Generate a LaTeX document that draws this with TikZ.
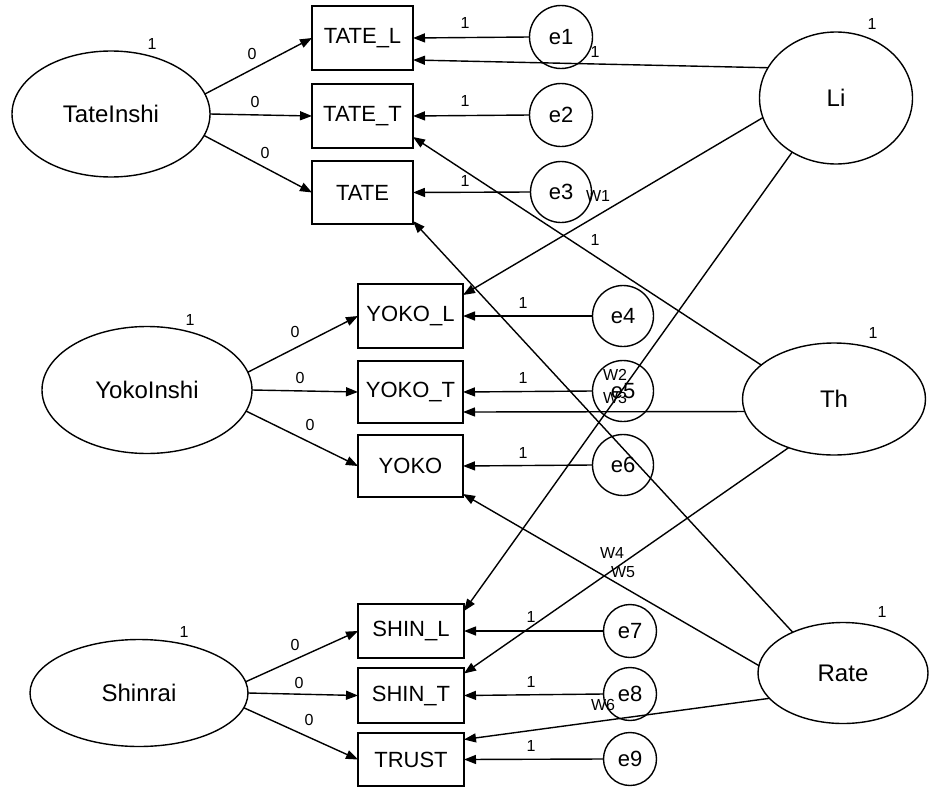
\documentclass[tikz,border=0pt]{standalone}
\usepackage{fontspec}
\setmainfont{Liberation Sans}
\usetikzlibrary{arrows.meta,shapes.geometric}
\begin{document}
\begin{tikzpicture}[x=1pt,y=-1pt,
  every node/.style={inner sep=0pt, outer sep=0pt},
  obs/.style={draw, rectangle, line width=1.4pt, font=\fontsize{22}{26}\selectfont},
  lat/.style={draw, ellipse, line width=1.4pt, font=\fontsize{24}{28}\selectfont},
  err/.style={draw, circle, line width=1.4pt, font=\fontsize{22}{26}\selectfont},
  reg/.style={line width=1.4pt, -{Triangle[length=12pt,width=9pt]}},
  lbl/.style={font=\fontsize{16}{18}\selectfont},
]
\useasboundingbox (0,0) rectangle (929,787);

% latent variables
\node[lat, minimum width=198pt, minimum height=126pt] (TateInshi) at (111,114) {TateInshi};
\node[lat, minimum width=210pt, minimum height=127pt] (YokoInshi) at (147,390) {YokoInshi};
\node[lat, minimum width=218pt, minimum height=107pt] (Shinrai) at (139,693) {Shinrai};
\node[lat, minimum width=153pt, minimum height=132pt] (Li) at (836,98) {Li};
\node[lat, minimum width=183pt, minimum height=112pt] (Th) at (834,399) {Th};
\node[lat, minimum width=170pt, minimum height=101pt] (Rate) at (843,673) {Rate};

% observed variables
\node[obs, minimum width=101pt, minimum height=64pt] (TATE_L) at (362.5,38) {TATE\_L};
\node[obs, minimum width=101pt, minimum height=64pt] (TATE_T) at (362.5,116) {TATE\_T};
\node[obs, minimum width=101pt, minimum height=63pt] (TATE) at (362.5,192.5) {TATE};
\node[obs, minimum width=105pt, minimum height=64pt] (YOKO_L) at (410.5,316) {YOKO\_L};
\node[obs, minimum width=105pt, minimum height=62pt] (YOKO_T) at (410.5,392) {YOKO\_T};
\node[obs, minimum width=105pt, minimum height=62pt] (YOKO) at (410.5,466) {YOKO};
\node[obs, minimum width=106pt, minimum height=54pt] (SHIN_L) at (411,631) {SHIN\_L};
\node[obs, minimum width=106pt, minimum height=55pt] (SHIN_T) at (411,695.5) {SHIN\_T};
\node[obs, minimum width=106pt, minimum height=53pt] (TRUST) at (411,759.5) {TRUST};

% error terms
\node[err, minimum size=63pt] (e1) at (561,37) {e1};
\node[err, minimum size=63pt] (e2) at (561,115) {e2};
\node[err, minimum size=61pt] (e3) at (561,192) {e3};
\node[err, minimum size=61pt] (e4) at (623,316) {e4};
\node[err, minimum size=61pt] (e5) at (623,391) {e5};
\node[err, minimum size=61pt] (e6) at (623,465) {e6};
\node[err, minimum size=53pt] (e7) at (630,631) {e7};
\node[err, minimum size=53pt] (e8) at (630,694) {e8};
\node[err, minimum size=53pt] (e9) at (630,759) {e9};

% factor loadings
\draw[reg] (TateInshi.12) -- (TATE_L.west);
\draw[reg] (TateInshi.east) -- (TATE_T.west);
\draw[reg] (TateInshi.347) -- (TATE.west);
\draw[reg] (YokoInshi.10) -- (YOKO_L.west);
\draw[reg] (YokoInshi.east) -- (YOKO_T.west);
\draw[reg] (YokoInshi.348) -- (YOKO.west);
\draw[reg] (Shinrai.6) -- (SHIN_L.west);
\draw[reg] (Shinrai.east) -- (SHIN_T.west);
\draw[reg] (Shinrai.352) -- (TRUST.west);

% error paths
\draw[reg] (e1.west) -- (TATE_L.east);
\draw[reg] (e2.west) -- (TATE_T.east);
\draw[reg] (e3.west) -- (TATE.east);
\draw[reg] (e4.west) -- (YOKO_L.east);
\draw[reg] (e5.west) -- (YOKO_T.east);
\draw[reg] (e6.west) -- (YOKO.east);
\draw[reg] (e7.west) -- (SHIN_L.east);
\draw[reg] (e8.west) -- (SHIN_T.east);
\draw[reg] (e9.west) -- (TRUST.east);

% method factors
\draw[reg] (Li.156) -- ([yshift=-22pt]TATE_L.east);
\draw[reg] (Li.195) -- ([yshift=21pt]YOKO_L.east);
\draw[reg] (Li.231) -- ([yshift=20pt]SHIN_L.east);
\draw[reg] (Th.155) -- ([yshift=-21pt]TATE_T.east);
\draw[reg] (Th.188) -- ([yshift=-20pt]YOKO_T.east);
\draw[reg] (Th.227) -- ([yshift=22pt]SHIN_T.east);
\draw[reg] (Rate.141) -- ([yshift=3pt]TATE.south east);
\draw[reg] (Rate.175) -- ([yshift=3pt]YOKO.south east);
\draw[reg] (Rate.199) -- ([yshift=20pt]TRUST.east);

% variance labels
\node[lbl] (vTate) at (152,44) {1};
\node[lbl] (vYoko) at (190,320) {1};
\node[lbl] (vShin) at (184,632) {1};
\node[lbl] (vLi) at (872,24) {1};
\node[lbl] (vTh) at (873,333) {1};
\node[lbl] (vRate) at (882,612) {1};

% loading labels
\node[lbl] (l1) at (252,54) {0};
\node[lbl] (l2) at (255,102) {0};
\node[lbl] (l3) at (265,153) {0};
\node[lbl] (l4) at (295,332) {0};
\node[lbl] (l5) at (300,378) {0};
\node[lbl] (l6) at (310,425) {0};
\node[lbl] (l7) at (295,645) {0};
\node[lbl] (l8) at (299,683) {0};
\node[lbl] (l9) at (309,720) {0};

% error path labels
\node[lbl] (m1) at (465,23) {1};
\node[lbl] (m2) at (465,101) {1};
\node[lbl] (m3) at (465,181) {1};
\node[lbl] (m4) at (523,303) {1};
\node[lbl] (m5) at (523,378) {1};
\node[lbl] (m6) at (523,453) {1};
\node[lbl] (m7) at (531,617) {1};
\node[lbl] (m8) at (531,682) {1};
\node[lbl] (m9) at (531,746) {1};

% method factor labels
\node[lbl] (k1) at (595,52) {1};
\node[lbl] (w1) at (598,196) {W1};
\node[lbl] (k2) at (595,240) {1};
\node[lbl] (w2) at (615,375) {W2};
\node[lbl] (w3) at (615,398) {W3};
\node[lbl] (w4) at (612,553) {W4};
\node[lbl] (w5) at (623,572) {W5};
\node[lbl] (w6) at (603,705) {W6};
\end{tikzpicture}
\end{document}
